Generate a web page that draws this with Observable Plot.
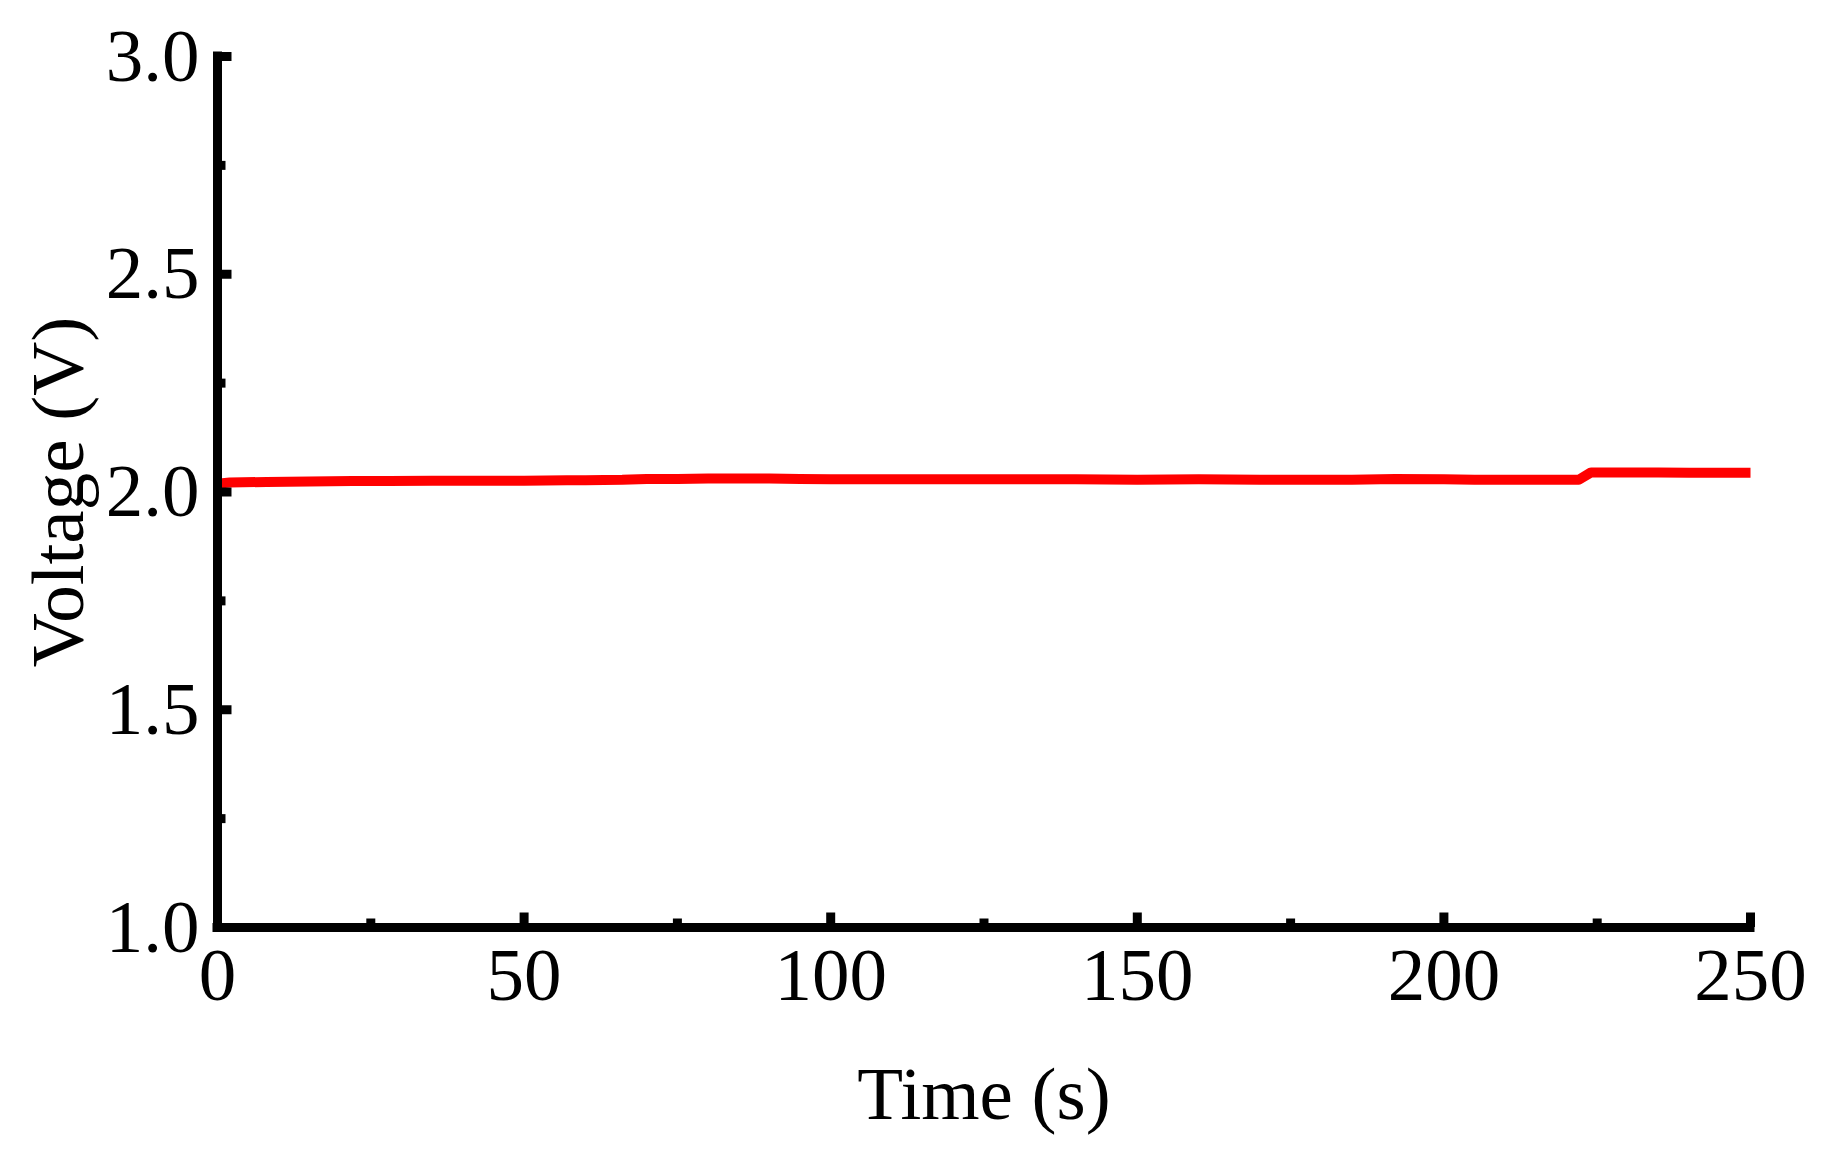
<!DOCTYPE html>
<html>
<head>
<meta charset="utf-8">
<script src="https://cdn.jsdelivr.net/npm/d3@7"></script>
<script src="https://cdn.jsdelivr.net/npm/@observablehq/plot@0.6"></script>
<style>
  html, body { margin: 0; padding: 0; background: #fff; }
  #chart svg { display: block; }
</style>
</head>
<body>
<div id="chart"></div>
<script>
// ---- data ----
const timeS = [0, 2, 8, 15, 22, 28, 35, 42, 50, 57, 60, 66, 70, 75, 80, 85, 90, 95, 100, 110, 120, 130, 140, 150, 160, 170, 180, 185, 192, 200, 205, 210, 215, 222, 224, 230, 235, 240, 245, 250];
const voltageV = [2.019, 2.022, 2.023, 2.024, 2.025, 2.025, 2.026, 2.026, 2.026, 2.027, 2.027, 2.028, 2.030, 2.030, 2.031, 2.031, 2.031, 2.030, 2.029, 2.029, 2.029, 2.029, 2.029, 2.028, 2.029, 2.028, 2.028, 2.028, 2.030, 2.029, 2.028, 2.028, 2.028, 2.028, 2.045, 2.045, 2.045, 2.044, 2.044, 2.044];
const xMajorTicks = [0, 50, 100, 150, 200, 250];
const xMinorTicks = [25, 75, 125, 175, 225];
const yMajorTicks = [1.0, 1.5, 2.0, 2.5, 3.0];
const yMinorTicks = [1.25, 1.75, 2.25, 2.75];
const xLabel = "Time (s)";
const yLabel = "Voltage (V)";

const series = timeS.map((t, i) => ({t, v: voltageV[i]}));

// ---- layout ----
const W = 1830, H = 1153;
const mL = 217, mR = 80, mT = 56, mB = 226;
const innerW = W - mL - mR, innerH = H - mT - mB;
const axisW = 9;
const majorLen = 14.5, minorLen = 8.5;
const font = "'Liberation Serif', 'Times New Roman', serif";
const fs = 75;

const chart = Plot.plot({
  width: W,
  height: H,
  marginLeft: mL, marginRight: mR, marginTop: mT, marginBottom: mB,
  style: {fontFamily: font, fontSize: fs + "px", background: "#fff", color: "#000"},
  x: {domain: [0, 250], axis: null},
  y: {domain: [1, 3], axis: null},
  marks: [
    Plot.line(series, {x: "t", y: "v", stroke: "#ff0000", strokeWidth: 10, strokeLinecap: "butt", strokeLinejoin: "round"}),
    // axis lines
    Plot.ruleX([0], {stroke: "#000", strokeWidth: axisW, strokeLinecap: "square"}),
    Plot.ruleY([1], {stroke: "#000", strokeWidth: axisW, strokeLinecap: "square"}),
    // inward ticks on y
    Plot.tickY(yMajorTicks, {y: d => d, stroke: "#000", strokeWidth: axisW, insetRight: innerW - majorLen}),
    Plot.tickY(yMinorTicks, {y: d => d, stroke: "#000", strokeWidth: axisW, insetRight: innerW - minorLen}),
    // inward ticks on x
    Plot.tickX(xMajorTicks, {x: d => d, stroke: "#000", strokeWidth: axisW, insetTop: innerH - majorLen}),
    Plot.tickX(xMinorTicks, {x: d => d, stroke: "#000", strokeWidth: axisW, insetTop: innerH - minorLen}),
    // tick labels
    Plot.axisY({ticks: yMajorTicks, tickSize: 0, tickPadding: 18, tickFormat: d3.format(".1f"), label: null, fontSize: fs}),
    Plot.axisX({ticks: xMajorTicks, tickSize: 0, tickPadding: 19, tickFormat: d3.format("d"), label: null, fontSize: fs}),
    // axis titles
    Plot.text([xLabel], {text: d => d, frameAnchor: "bottom", textAnchor: "middle", lineAnchor: "bottom", dy: 191, fontSize: fs, fill: "#000"}),
    Plot.text([yLabel], {text: d => d, frameAnchor: "left", textAnchor: "middle", lineAnchor: "bottom", rotate: -90, dx: -135, fontSize: fs, fill: "#000"})
  ]
});
document.getElementById("chart").appendChild(chart);
</script>
</body>
</html>
